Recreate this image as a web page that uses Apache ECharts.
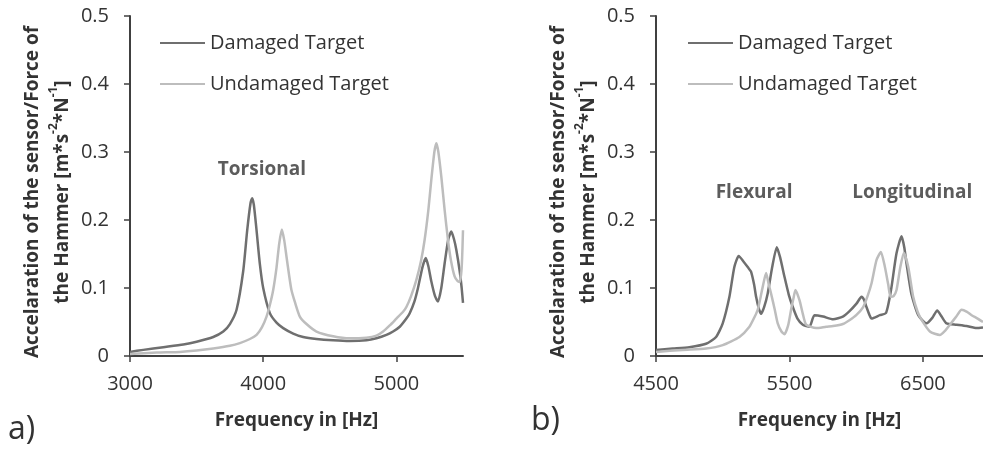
<!DOCTYPE html>
<html>
<head>
<meta charset="utf-8">
<script src="https://cdn.jsdelivr.net/npm/echarts@6/dist/echarts.min.js"></script>
<style>
html,body{margin:0;padding:0;background:#fff;}
#c{width:983px;height:449px;}
</style>
</head>
<body>
<div id="c"></div>
<script>
// ---- data ----
const seriesNames = ['Damaged Target', 'Undamaged Target'];

// a) Torsional chart
const aXTicks = [3000, 4000, 5000];
const aDamagedHz = [3000,3100,3250,3400,3500,3625,3700,3750,3800,3850,3880,3905,3917,3930,3950,3975,4000,4050,4100,4150,4225,4300,4400,4525,4650,4775,4850,4925,4975,5025,5075,5100,5135,5162,5195,5220,5240,5262,5290,5312,5337,5362,5390,5412,5432,5450,5475,5490,5500];
const aDamagedVal = [0.006,0.009,0.013,0.017,0.021,0.028,0.036,0.047,0.068,0.125,0.185,0.225,0.232,0.222,0.185,0.135,0.100,0.063,0.049,0.041,0.033,0.028,0.025,0.023,0.022,0.023,0.026,0.031,0.036,0.043,0.055,0.063,0.080,0.100,0.130,0.144,0.132,0.110,0.088,0.080,0.100,0.136,0.172,0.183,0.172,0.156,0.125,0.100,0.078];
const aUndamagedHz = [3000,3200,3375,3500,3625,3750,3825,3900,3950,3990,4025,4050,4075,4100,4120,4140,4158,4175,4195,4212,4240,4275,4325,4400,4525,4650,4775,4850,4900,4950,5000,5050,5075,5110,5150,5185,5212,5240,5262,5285,5300,5315,5337,5362,5387,5410,5437,5460,5475,5490,5500];
const aUndamagedVal = [0.003,0.005,0.006,0.008,0.011,0.015,0.019,0.025,0.031,0.042,0.058,0.075,0.097,0.130,0.165,0.186,0.170,0.146,0.118,0.097,0.078,0.058,0.047,0.036,0.029,0.026,0.027,0.030,0.036,0.045,0.055,0.065,0.072,0.088,0.112,0.140,0.171,0.215,0.259,0.300,0.313,0.300,0.264,0.215,0.171,0.140,0.117,0.110,0.109,0.130,0.185];

// b) Flexural / Longitudinal chart
const bXTicks = [4500, 5500, 6500];
const bDamagedHz = [4500,4625,4750,4875,4950,5000,5050,5087,5120,5155,5190,5212,5235,5250,5270,5287,5310,5337,5370,5405,5430,5462,5495,5525,5560,5600,5650,5687,5752,5827,5900,5950,6002,6040,6060,6077,6100,6115,6177,6222,6245,6265,6302,6340,6360,6377,6415,6465,6527,6570,6607,6640,6677,6752,6827,6902,6950];
const bDamagedVal = [0.009,0.011,0.013,0.018,0.028,0.048,0.087,0.131,0.147,0.139,0.130,0.124,0.105,0.087,0.070,0.062,0.072,0.092,0.130,0.160,0.145,0.117,0.090,0.072,0.055,0.046,0.043,0.060,0.058,0.054,0.058,0.066,0.077,0.087,0.082,0.072,0.060,0.055,0.060,0.063,0.080,0.102,0.151,0.176,0.160,0.136,0.090,0.060,0.048,0.056,0.067,0.058,0.048,0.046,0.044,0.041,0.042];
const bUndamagedHz = [4500,4700,4875,5000,5125,5200,5240,5262,5285,5300,5325,5345,5362,5390,5412,5440,5462,5490,5512,5530,5545,5575,5600,5625,5700,5775,5827,5900,5952,6000,6052,6085,6115,6152,6185,6215,6240,6257,6280,6302,6330,6357,6390,6427,6460,6490,6552,6627,6670,6702,6750,6790,6830,6865,6910,6950];
const bUndamagedVal = [0.006,0.009,0.011,0.016,0.028,0.043,0.058,0.068,0.088,0.102,0.122,0.105,0.092,0.068,0.048,0.036,0.032,0.045,0.068,0.085,0.097,0.082,0.062,0.046,0.041,0.043,0.044,0.047,0.053,0.060,0.072,0.088,0.107,0.141,0.153,0.131,0.105,0.087,0.088,0.097,0.130,0.152,0.131,0.087,0.065,0.053,0.036,0.031,0.038,0.046,0.058,0.068,0.065,0.060,0.055,0.050];

const annotations = [
  {grid: 0, text: 'Torsional', hz: 3990, val: 0.274},
  {grid: 1, text: 'Flexural', hz: 5235, val: 0.240},
  {grid: 1, text: 'Longitudinal', hz: 6420, val: 0.240}
];
const panelLabels = ['a)', 'b)'];

// ---- build ----
const FONT = '"Open Sans", sans-serif';
const TXT = '#333333';
const DARK = '#6f6f6f';
const LIGHT = '#bdbdbd';
const zip = (xs, ys) => xs.map((x, i) => [x, ys[i]]);

function xAxis(idx, min, max, ticks) {
  return {
    type: 'value', gridIndex: idx, min: min, max: max,
    name: 'Frequency in [Hz]', nameLocation: 'middle', nameGap: 55,
    nameTextStyle: {fontFamily: FONT, fontWeight: 'bold', fontSize: 19, color: TXT},
    axisLine: {lineStyle: {color: '#404040', width: 2}},
    axisTick: {show: true, inside: false, length: 6, customValues: ticks, lineStyle: {color: '#404040', width: 1.5}},
    axisLabel: {customValues: ticks, margin: 18, fontFamily: FONT, fontSize: 20, color: TXT,
      formatter: v => String(v)},
    splitLine: {show: false}
  };
}
function yAxis(idx) {
  return {
    type: 'value', gridIndex: idx, min: 0, max: 0.5, interval: 0.1,
    name: '{b|Accelaration of the sensor/Force of}\n{b|the Hammer [m*s}{sup|-2}{b|*N}{sup|-1}{b|]}',
    nameLocation: 'middle', nameRotate: 90, nameGap: 52,
    nameTextStyle: {
      fontFamily: FONT, fontWeight: 'bold', fontSize: 19, color: TXT,
      padding: [0, 12, 0, 0],
      rich: {
        b: {fontFamily: FONT, fontWeight: 'bold', fontSize: 19, color: TXT, lineHeight: 30},
        sup: {fontFamily: FONT, fontWeight: 'bold', fontSize: 12, color: TXT, lineHeight: 20, verticalAlign: 'top'}
      }
    },
    axisLine: {show: true, lineStyle: {color: '#404040', width: 2}},
    axisTick: {show: true, inside: false, length: 6, lineStyle: {color: '#404040', width: 1.5}},
    axisLabel: {margin: 21, fontFamily: FONT, fontSize: 20, color: TXT},
    splitLine: {show: false}
  };
}
function lineSeries(name, idx, data, color) {
  return {
    type: 'line', name: name, xAxisIndex: idx, yAxisIndex: idx,
    data: data, showSymbol: false, symbol: 'none', smooth: 0.2,
    lineStyle: {color: color, width: 2.5}, itemStyle: {color: color},
    animation: false, silent: true
  };
}

const series = [
  lineSeries(seriesNames[0], 0, zip(aDamagedHz, aDamagedVal), DARK),
  lineSeries(seriesNames[1], 0, zip(aUndamagedHz, aUndamagedVal), LIGHT),
  lineSeries(seriesNames[0], 1, zip(bDamagedHz, bDamagedVal), DARK),
  lineSeries(seriesNames[1], 1, zip(bUndamagedHz, bUndamagedVal), LIGHT)
];
annotations.forEach(a => {
  series.push({
    type: 'scatter', xAxisIndex: a.grid, yAxisIndex: a.grid, silent: true,
    data: [[a.hz, a.val]], symbolSize: 0,
    label: {show: true, position: 'inside', formatter: a.text, fontFamily: FONT, fontWeight: 'bold', fontSize: 19, color: TXT},
    animation: false
  });
});

function legend(left) {
  return {
    left: left, top: 33, orient: 'vertical', padding: 0, itemGap: 21,
    itemWidth: 45, itemHeight: 2, icon: 'rect', data: seriesNames,
    textStyle: {fontFamily: FONT, fontSize: 20, color: TXT}
  };
}

const option = {
  animation: false,
  grid: [
    {left: 130, top: 16, width: 333, bottom: 93},
    {left: 656, top: 16, right: 0, bottom: 93}
  ],
  xAxis: [xAxis(0, 3000, 5500, aXTicks), xAxis(1, 4500, 6950, bXTicks)],
  yAxis: [yAxis(0), yAxis(1)],
  legend: [legend(160), legend(688)],
  title: [
    {text: panelLabels[0], left: 8, top: 414, padding: 0, textStyle: {fontFamily: FONT, fontWeight: 'normal', fontSize: 32, color: TXT}},
    {text: panelLabels[1], left: 531, top: 405, padding: 0, textStyle: {fontFamily: FONT, fontWeight: 'normal', fontSize: 32, color: TXT}}
  ],
  series: series
};

const chart = echarts.init(document.getElementById('c'), null, {renderer: 'canvas'});
chart.setOption(option);
</script>
</body>
</html>
